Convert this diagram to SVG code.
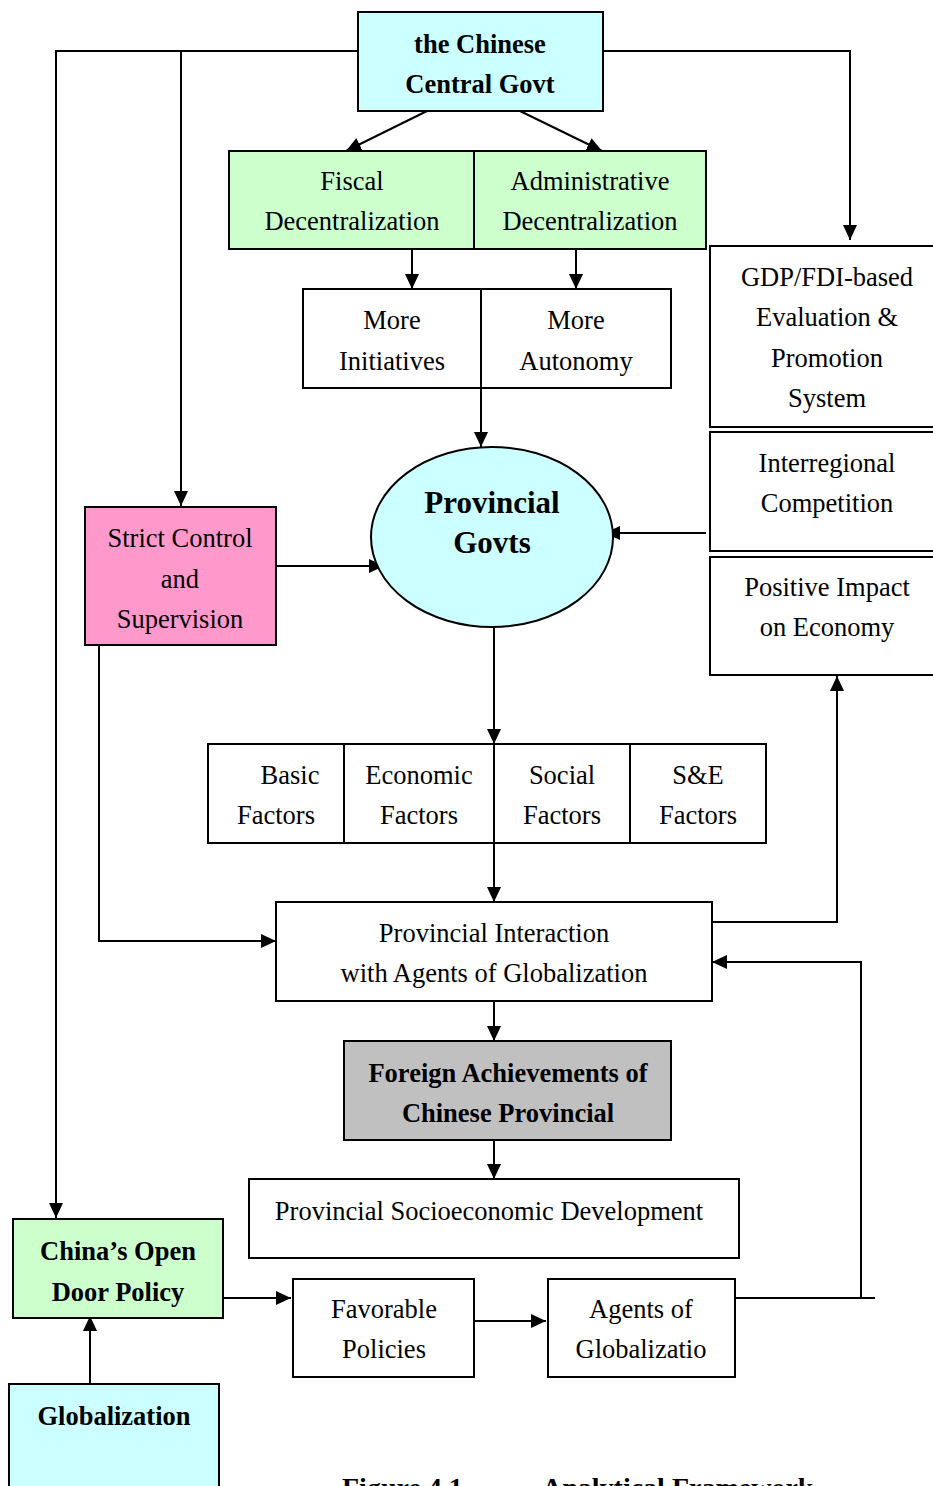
<svg xmlns="http://www.w3.org/2000/svg" width="933" height="1486" viewBox="0 0 933 1486">
<style>
.box{stroke:#000;stroke-width:2;}
.w{fill:#fff;}
.cyan{fill:#ccffff;}
.green{fill:#ccffcc;}
.pink{fill:#ff99cc;}
.gray{fill:#c0c0c0;}
text{font-family:"Liberation Serif","Times New Roman",serif;font-size:26.5px;fill:#000;text-anchor:middle;}
.b{font-weight:bold;}
.con{fill:none;stroke:#000;stroke-width:2;}
</style>
<defs>
<marker id="ah" markerUnits="userSpaceOnUse" markerWidth="16" markerHeight="14" refX="15" refY="7" orient="auto">
<path d="M0,0 L15,7 L0,14 z" fill="#000"/>
</marker>
</defs>
<rect width="933" height="1486" fill="#fff"/>

<g id="connectors">
<polyline class="con" points="358,51 56,51 56,1218" marker-end="url(#ah)"/>
<polyline class="con" points="181,51 181,506" marker-end="url(#ah)"/>
<polyline class="con" points="603,51 850,51 850,240" marker-end="url(#ah)"/>
<line class="con" x1="427" y1="111" x2="346" y2="151" marker-end="url(#ah)"/>
<line class="con" x1="520" y1="111" x2="602" y2="151" marker-end="url(#ah)"/>
<line class="con" x1="412" y1="249" x2="412" y2="289" marker-end="url(#ah)"/>
<line class="con" x1="576" y1="249" x2="576" y2="289" marker-end="url(#ah)"/>
<line class="con" x1="481" y1="388" x2="481" y2="447" marker-end="url(#ah)"/>
<line class="con" x1="706" y1="533" x2="605" y2="533" marker-end="url(#ah)"/>
<line class="con" x1="276" y1="566" x2="384" y2="566" marker-end="url(#ah)"/>
<line class="con" x1="494" y1="627" x2="494" y2="744" marker-end="url(#ah)"/>
<line class="con" x1="494" y1="843" x2="494" y2="902" marker-end="url(#ah)"/>
<polyline class="con" points="99,645 99,941 276,941" marker-end="url(#ah)"/>
<polyline class="con" points="712,922 837,922 837,676" marker-end="url(#ah)"/>
<polyline class="con" points="735,1298 875,1298"/>
<polyline class="con" points="861,1298 861,962 712,962" marker-end="url(#ah)"/>
<line class="con" x1="494" y1="1001" x2="494" y2="1041" marker-end="url(#ah)"/>
<line class="con" x1="494" y1="1140" x2="494" y2="1179" marker-end="url(#ah)"/>
<line class="con" x1="220" y1="1298" x2="291" y2="1298" marker-end="url(#ah)"/>
<line class="con" x1="474" y1="1321" x2="546" y2="1321" marker-end="url(#ah)"/>
<line class="con" x1="90" y1="1384" x2="90" y2="1316" marker-end="url(#ah)"/>
</g>

<g id="central">
<rect class="box cyan" x="358" y="12" width="245" height="99"/>
<text class="b" x="480" y="53">the Chinese</text>
<text class="b" x="480" y="93">Central Govt</text>
</g>

<g id="fiscal">
<rect class="box green" x="229" y="151" width="245" height="98"/>
<text x="352" y="190">Fiscal</text>
<text x="352" y="230">Decentralization</text>
</g>
<g id="admin">
<rect class="box green" x="474" y="151" width="232" height="98"/>
<text x="590" y="190">Administrative</text>
<text x="590" y="230">Decentralization</text>
</g>

<g id="initiatives">
<rect class="box w" x="303" y="289" width="178" height="99"/>
<text x="392" y="329">More</text>
<text x="392" y="370">Initiatives</text>
</g>
<g id="autonomy">
<rect class="box w" x="481" y="289" width="190" height="99"/>
<text x="576" y="329">More</text>
<text x="576" y="370">Autonomy</text>
</g>

<g id="gdp">
<rect class="box w" x="710" y="246" width="235" height="181"/>
<text x="827" y="286">GDP/FDI-based</text>
<text x="827" y="326">Evaluation &amp;</text>
<text x="827" y="367">Promotion</text>
<text x="827" y="407">System</text>
</g>
<g id="interregional">
<rect class="box w" x="710" y="432" width="235" height="119"/>
<text x="827" y="472">Interregional</text>
<text x="827" y="512">Competition</text>
</g>
<g id="positive">
<rect class="box w" x="710" y="557" width="235" height="118"/>
<text x="827" y="596">Positive Impact</text>
<text x="827" y="636">on Economy</text>
</g>

<g id="provincial">
<ellipse class="box cyan" cx="492" cy="537" rx="121" ry="90"/>
<text class="b" x="492" y="513" style="font-size:31px">Provincial</text>
<text class="b" x="492" y="553" style="font-size:31px">Govts</text>
</g>

<g id="strict">
<rect class="box pink" x="85" y="507" width="191" height="138"/>
<text x="180" y="547">Strict Control</text>
<text x="180" y="588">and</text>
<text x="180" y="628">Supervision</text>
</g>

<g id="basic">
<rect class="box w" x="208" y="744" width="136" height="99"/>
<text x="290" y="784">Basic</text>
<text x="276" y="824">Factors</text>
</g>
<g id="economic">
<rect class="box w" x="344" y="744" width="150" height="99"/>
<text x="419" y="784">Economic</text>
<text x="419" y="824">Factors</text>
</g>
<g id="social">
<rect class="box w" x="494" y="744" width="136" height="99"/>
<text x="562" y="784">Social</text>
<text x="562" y="824">Factors</text>
</g>
<g id="se">
<rect class="box w" x="630" y="744" width="136" height="99"/>
<text x="698" y="784">S&amp;E</text>
<text x="698" y="824">Factors</text>
</g>

<g id="interaction">
<rect class="box w" x="276" y="902" width="436" height="99"/>
<text x="494" y="942">Provincial Interaction</text>
<text x="494" y="982">with Agents of Globalization</text>
</g>

<g id="foreign">
<rect class="box gray" x="344" y="1041" width="327" height="99"/>
<text class="b" x="508" y="1082">Foreign Achievements of</text>
<text class="b" x="508" y="1122">Chinese Provincial</text>
</g>

<g id="socio">
<rect class="box w" x="249" y="1179" width="490" height="79"/>
<text x="489" y="1220">Provincial Socioeconomic Development</text>
</g>

<g id="opendoor">
<rect class="box green" x="13" y="1219" width="210" height="99"/>
<text class="b" x="118" y="1260">China’s Open</text>
<text class="b" x="118" y="1301">Door Policy</text>
</g>

<g id="favorable">
<rect class="box w" x="293" y="1279" width="181" height="98"/>
<text x="384" y="1318">Favorable</text>
<text x="384" y="1358">Policies</text>
</g>

<g id="agents">
<rect class="box w" x="548" y="1279" width="187" height="98"/>
<text x="641" y="1318">Agents of</text>
<text x="641" y="1358">Globalizatio</text>
</g>

<g id="globalization">
<rect class="box cyan" x="9" y="1384" width="210" height="110"/>
<text class="b" x="114" y="1425">Globalization</text>
</g>

<g id="caption">
<text class="b" x="342" y="1497" style="text-anchor:start;font-size:28px">Figure 4.1</text>
<text class="b" x="542" y="1497" style="text-anchor:start;font-size:28px">Analytical Framework</text>
</g>
</svg>
